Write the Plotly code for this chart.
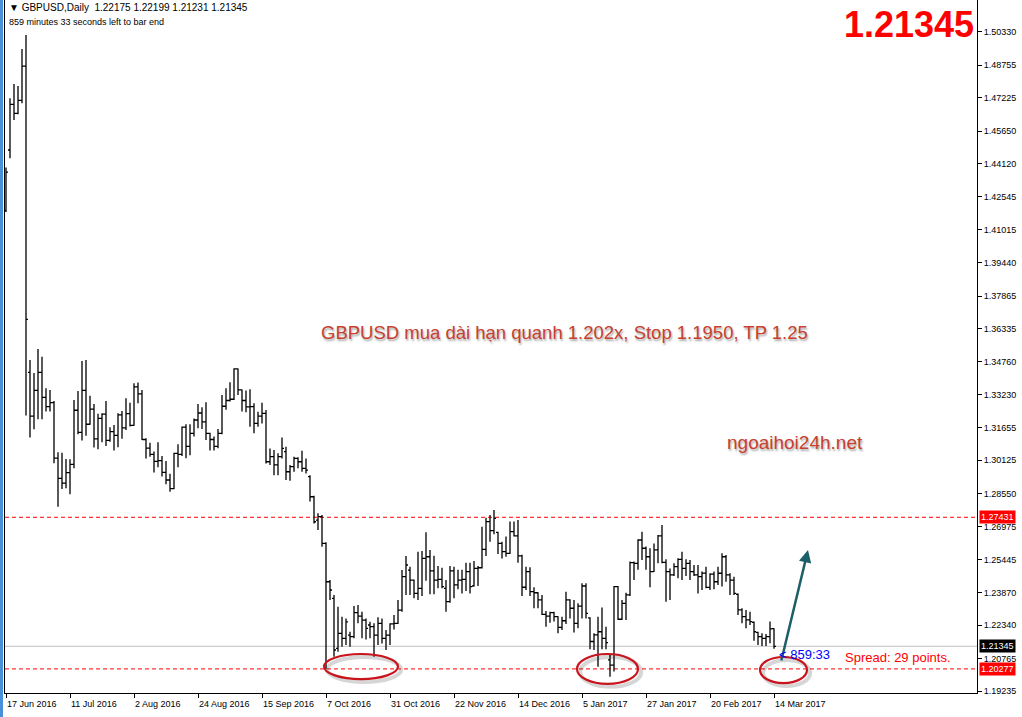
import pandas as pd
import plotly.graph_objects as go

# ---------------- data ----------------
symbol = "GBPUSD"
timeframe = "Daily"
start_date = "2016-06-17"
end_date = "2017-03-14"

open_ = [
    1.4190, 1.4476, 1.4691, 1.4649, 1.4710, 1.4872, 1.3427, 1.3220, 1.3342, 1.3427,
    1.3309, 1.3265, 1.3284, 1.3022, 1.2927, 1.2904, 1.2954, 1.2993, 1.3248, 1.3144,
    1.3342, 1.3182, 1.3253, 1.3113, 1.3210, 1.3230, 1.3106, 1.3147, 1.3130, 1.3226,
    1.3165, 1.3232, 1.3177, 1.3358, 1.3325, 1.3110, 1.3069, 1.3040, 1.3007, 1.3010,
    1.2955, 1.2919, 1.2878, 1.3045, 1.3040, 1.3168, 1.3078, 1.3139, 1.3202, 1.3235,
    1.3193, 1.3139, 1.3110, 1.3078, 1.3139, 1.3267, 1.3294, 1.3300, 1.3443, 1.3344,
    1.3294, 1.3264, 1.3265, 1.3186, 1.3220, 1.3233, 1.3005, 1.3029, 1.2990, 1.3029,
    1.3053, 1.2958, 1.2982, 1.3021, 1.3005, 1.2974, 1.2935, 1.2840, 1.2730, 1.2746,
    1.2620, 1.2439, 1.2361, 1.2125, 1.2195, 1.2172, 1.2187, 1.2180, 1.2293, 1.2277,
    1.2258, 1.2235, 1.2227, 1.2187, 1.2243, 1.2172, 1.2187, 1.2240, 1.2243, 1.2305,
    1.2463, 1.2494, 1.2447, 1.2384, 1.2408, 1.2549, 1.2557, 1.2490, 1.2447, 1.2450,
    1.2408, 1.2345, 1.2490, 1.2424, 1.2447, 1.2450, 1.2487, 1.2419, 1.2502, 1.2505,
    1.2592, 1.2723, 1.2680, 1.2672, 1.2620, 1.2581, 1.2573, 1.2675, 1.2655, 1.2561,
    1.2413, 1.2487, 1.2392, 1.2387, 1.2353, 1.2285, 1.2277, 1.2293, 1.2274, 1.2224,
    1.2255, 1.2353, 1.2314, 1.2243, 1.2324, 1.2419, 1.2269, 1.2157, 1.2188, 1.2203,
    1.2172, 1.2070, 1.2046, 1.2416, 1.2262, 1.2337, 1.2377, 1.2529, 1.2526, 1.2636,
    1.2597, 1.2557, 1.2487, 1.2589, 1.2655, 1.2530, 1.2487, 1.2471, 1.2510, 1.2545,
    1.2502, 1.2526, 1.2487, 1.2471, 1.2463, 1.2480, 1.2412, 1.2475, 1.2439, 1.2479,
    1.2557, 1.2471, 1.2447, 1.2380, 1.2306, 1.2274, 1.2259, 1.2248, 1.2200, 1.2180,
    1.2172, 1.2180, 1.22175,
]
high = [
    1.4393, 1.4720, 1.4787, 1.4778, 1.4952, 1.5019, 1.3485, 1.3424, 1.3537, 1.3501,
    1.3352, 1.3344, 1.3292, 1.3050, 1.3048, 1.3018, 1.3017, 1.3297, 1.3339, 1.3481,
    1.3485, 1.3316, 1.3278, 1.3231, 1.3234, 1.3292, 1.3168, 1.3179, 1.3234, 1.3245,
    1.3305, 1.3284, 1.3375, 1.3379, 1.3344, 1.3116, 1.3095, 1.3053, 1.3097, 1.3032,
    1.3009, 1.2948, 1.3048, 1.3088, 1.3171, 1.3182, 1.3182, 1.3209, 1.3278, 1.3262,
    1.3286, 1.3142, 1.3124, 1.3160, 1.3320, 1.3352, 1.3380, 1.3446, 1.3445, 1.3346,
    1.3341, 1.3347, 1.3281, 1.3241, 1.3284, 1.3249, 1.3068, 1.3060, 1.3045, 1.3120,
    1.3076, 1.2990, 1.3029, 1.3026, 1.3057, 1.3021, 1.2942, 1.2845, 1.2762, 1.2754,
    1.2625, 1.2447, 1.2376, 1.2321, 1.2274, 1.2266, 1.2203, 1.2324, 1.2329, 1.2298,
    1.2266, 1.2250, 1.2243, 1.2271, 1.2266, 1.2211, 1.2243, 1.2282, 1.2353, 1.2494,
    1.2560, 1.2510, 1.2450, 1.2580, 1.2584, 1.2672, 1.2589, 1.2562, 1.2513, 1.2505,
    1.2447, 1.2513, 1.2510, 1.2495, 1.2495, 1.2529, 1.2529, 1.2537, 1.2513, 1.2699,
    1.2741, 1.2754, 1.2777, 1.2675, 1.2628, 1.2652, 1.2723, 1.2723, 1.2730, 1.2566,
    1.2510, 1.2507, 1.2413, 1.2390, 1.2376, 1.2301, 1.2298, 1.2298, 1.2276, 1.2274,
    1.2392, 1.2356, 1.2353, 1.2337, 1.2432, 1.2432, 1.2272, 1.2196, 1.2274, 1.2318,
    1.2227, 1.2093, 1.2419, 1.2419, 1.2353, 1.2387, 1.2534, 1.2534, 1.2639, 1.2675,
    1.2605, 1.2597, 1.2620, 1.2660, 1.2707, 1.2545, 1.2502, 1.2526, 1.2550, 1.2581,
    1.2545, 1.2542, 1.2518, 1.2518, 1.2487, 1.2510, 1.2479, 1.2487, 1.2510, 1.2573,
    1.2565, 1.2479, 1.2463, 1.2384, 1.2314, 1.2306, 1.2298, 1.2251, 1.2203, 1.2196,
    1.2192, 1.2251, 1.22199,
]
low = [
    1.4183, 1.4437, 1.4617, 1.4644, 1.4696, 1.3223, 1.3119, 1.3158, 1.3206, 1.3206,
    1.3242, 1.3242, 1.2998, 1.2793, 1.2877, 1.2880, 1.2852, 1.2974, 1.3135, 1.3105,
    1.3128, 1.3180, 1.3072, 1.3064, 1.3097, 1.3080, 1.3100, 1.3058, 1.3073, 1.3114,
    1.3155, 1.3171, 1.3175, 1.3281, 1.3108, 1.3020, 1.3029, 1.2954, 1.2979, 1.2935,
    1.2899, 1.2864, 1.2875, 1.2979, 1.3032, 1.3022, 1.3036, 1.3124, 1.3163, 1.3160,
    1.3108, 1.3058, 1.3058, 1.3069, 1.3135, 1.3250, 1.3289, 1.3297, 1.3320, 1.3242,
    1.3239, 1.3170, 1.3139, 1.3170, 1.3186, 1.2997, 1.2990, 1.2942, 1.2942, 1.3021,
    1.2919, 1.2916, 1.2958, 1.2974, 1.2958, 1.2950, 1.2817, 1.2714, 1.2683, 1.2604,
    1.2027, 1.2353, 1.2085, 1.2109, 1.2132, 1.2140, 1.2132, 1.2172, 1.2243, 1.2172,
    1.2167, 1.2172, 1.2085, 1.2140, 1.2148, 1.2117, 1.2140, 1.2214, 1.2240, 1.2298,
    1.2376, 1.2376, 1.2361, 1.2353, 1.2372, 1.2444, 1.2380, 1.2380, 1.2408, 1.2408,
    1.2298, 1.2340, 1.2361, 1.2403, 1.2384, 1.2395, 1.2384, 1.2416, 1.2419, 1.2501,
    1.2561, 1.2628, 1.2663, 1.2570, 1.2549, 1.2557, 1.2570, 1.2652, 1.2529, 1.2372,
    1.2400, 1.2372, 1.2314, 1.2314, 1.2282, 1.2227, 1.2246, 1.2251, 1.2196, 1.2211,
    1.2240, 1.2266, 1.2199, 1.2219, 1.2266, 1.2266, 1.2120, 1.2117, 1.2038, 1.2120,
    1.2120, 1.1991, 1.2015, 1.2258, 1.2259, 1.2259, 1.2372, 1.2447, 1.2495, 1.2542,
    1.2495, 1.2413, 1.2485, 1.2526, 1.2526, 1.2345, 1.2353, 1.2466, 1.2455, 1.2447,
    1.2466, 1.2447, 1.2466, 1.2384, 1.2400, 1.2408, 1.2400, 1.2403, 1.2424, 1.2416,
    1.2439, 1.2377, 1.2377, 1.2282, 1.2243, 1.2219, 1.2235, 1.2161, 1.2141, 1.2136,
    1.2136, 1.2149, 1.21231,
]
close = [
    1.4372, 1.4691, 1.4649, 1.4710, 1.4872, 1.3677, 1.3220, 1.3342, 1.3427, 1.3309,
    1.3265, 1.3284, 1.3022, 1.2927, 1.2904, 1.2954, 1.2993, 1.3248, 1.3144, 1.3342,
    1.3182, 1.3253, 1.3113, 1.3210, 1.3230, 1.3106, 1.3147, 1.3130, 1.3226, 1.3165,
    1.3232, 1.3177, 1.3358, 1.3325, 1.3110, 1.3069, 1.3040, 1.3007, 1.3010, 1.2955,
    1.2919, 1.2878, 1.3045, 1.3040, 1.3168, 1.3078, 1.3139, 1.3202, 1.3235, 1.3193,
    1.3139, 1.3110, 1.3078, 1.3139, 1.3267, 1.3294, 1.3300, 1.3443, 1.3344, 1.3294,
    1.3264, 1.3265, 1.3186, 1.3220, 1.3233, 1.3005, 1.3029, 1.2990, 1.3029, 1.3068,
    1.2958, 1.2982, 1.3021, 1.3005, 1.2974, 1.2966, 1.2840, 1.2722, 1.2746, 1.2620,
    1.2439, 1.2400, 1.2117, 1.2195, 1.2172, 1.2250, 1.2180, 1.2293, 1.2277, 1.2258,
    1.2219, 1.2227, 1.2187, 1.2243, 1.2172, 1.2187, 1.2240, 1.2243, 1.2305, 1.2463,
    1.2518, 1.2447, 1.2384, 1.2408, 1.2549, 1.2557, 1.2490, 1.2447, 1.2450, 1.2416,
    1.2345, 1.2490, 1.2424, 1.2447, 1.2450, 1.2487, 1.2416, 1.2502, 1.2505, 1.2592,
    1.2723, 1.2680, 1.2738, 1.2620, 1.2581, 1.2573, 1.2675, 1.2655, 1.2561, 1.2413,
    1.2487, 1.2392, 1.2387, 1.2353, 1.2285, 1.2277, 1.2293, 1.2274, 1.2224, 1.2255,
    1.2353, 1.2314, 1.2243, 1.2324, 1.2419, 1.2290, 1.2157, 1.2188, 1.2203, 1.2172,
    1.2152, 1.2046, 1.2416, 1.2262, 1.2337, 1.2377, 1.2529, 1.2526, 1.2636, 1.2597,
    1.2557, 1.2487, 1.2589, 1.2655, 1.2530, 1.2487, 1.2471, 1.2510, 1.2545, 1.2502,
    1.2526, 1.2487, 1.2471, 1.2463, 1.2480, 1.2412, 1.2475, 1.2439, 1.2479, 1.2557,
    1.2471, 1.2447, 1.2384, 1.2306, 1.2274, 1.2259, 1.2251, 1.2203, 1.2180, 1.2172,
    1.2180, 1.2217, 1.21345,
]

y_tick_values = [1.19235, 1.20765, 1.22340, 1.23870, 1.25445, 1.26975, 1.28550,
                 1.30125, 1.31655, 1.33230, 1.34760, 1.36335, 1.37865, 1.39440,
                 1.41015, 1.42545, 1.44120, 1.45650, 1.47225, 1.48755, 1.50330]
x_tick_step = 16

resistance_level = 1.27431
support_level = 1.20277
spread_points = 29
time_left = "859:33"
time_left_text = "859 minutes 33 seconds left to bar end"
note_text = "GBPUSD mua dài hạn quanh 1.202x, Stop 1.1950, TP 1.25"
site_text = "ngoaihoi24h.net"

# ---------------- build ----------------
dates = pd.bdate_range(start_date, end_date)
n = len(open_)
assert len(dates) == n == len(high) == len(low) == len(close)
xi = list(range(n))

W, H = 1022, 717
L, R, T, B = 5, 45, 0, 24
PW, PH = W - L - R, H - T - B


def px(xp):  # pixel -> paper x
    return (xp - L) / PW


def py(yp):  # pixel -> paper y
    return (H - B - yp) / PH


FONT = "Liberation Sans, Arial, sans-serif"

fig = go.Figure(go.Ohlc(
    x=xi, open=open_, high=high, low=low, close=close,
    increasing=dict(line=dict(color="black", width=1.3)),
    decreasing=dict(line=dict(color="black", width=1.3)),
    tickwidth=0.5, hoverinfo="skip", showlegend=False,
))

bid = close[-1]
shapes = [
    dict(type="line", xref="paper", x0=0, x1=1, yref="y", y0=resistance_level, y1=resistance_level,
         line=dict(color="#ff0000", width=1, dash="4px,3px"), layer="below"),
    dict(type="line", xref="paper", x0=0, x1=1, yref="y", y0=support_level, y1=support_level,
         line=dict(color="#ff0000", width=1, dash="4px,3px"), layer="below"),
    dict(type="line", xref="paper", x0=0, x1=1, yref="y", y0=bid, y1=bid,
         line=dict(color="#c0c0c0", width=1), layer="below"),
    # left window strip
    dict(type="rect", xref="paper", x0=px(0), x1=px(3), yref="paper", y0=py(H), y1=py(0),
         fillcolor="#4a90d9", line=dict(width=0)),
]

# hand-drawn ellipses (shadow + red outline)
ellipses = [(79.5, 98.0, 1.1980, 1.2098), (142.75, 158.0, 1.1957, 1.2098), (188.5, 200.25, 1.1961, 1.2084)]
for x0, x1, y0, y1 in ellipses:
    shapes.append(dict(type="circle", xref="x", yref="y", x0=x0 + 0.8, x1=x1 + 0.8,
                       y0=y0 - 0.0014, y1=y1 - 0.0014,
                       line=dict(color="rgba(0,0,0,0.16)", width=4)))
    shapes.append(dict(type="circle", xref="x", yref="y", x0=x0, x1=x1, y0=y0, y1=y1,
                       line=dict(color="#c8141c", width=2.2)))

ann = []
# x tick labels, left-aligned like MT4
for i in range(0, n, x_tick_step):
    d = dates[i]
    ann.append(dict(x=i, xref="x", y=0, yref="paper", yanchor="top", xanchor="left",
                    xshift=-1, yshift=-4, showarrow=False,
                    text=f"{d.day} {d.strftime('%b %Y')}",
                    font=dict(family=FONT, size=9, color="black")))

# price labels on the axis
for lvl, bg in [(resistance_level, "#ff0000"), (support_level, "#ff0000"), (bid, "#000000")]:
    ann.append(dict(x=1, xref="paper", y=lvl, yref="y", xanchor="left", xshift=2,
                    showarrow=False, text=f"{lvl:.5f}", bgcolor=bg, borderpad=1,
                    font=dict(family=FONT, size=9, color="white")))

# header
NB = "\u00a0"
ann.append(dict(x=px(7), xref="paper", y=py(8), yref="paper", xanchor="left", yanchor="middle",
                showarrow=False,
                text=f"▼{NB}{symbol},{timeframe}{NB}{NB}{open_[-1]:.5f} {high[-1]:.5f} {low[-1]:.5f} {close[-1]:.5f}",
                font=dict(family=FONT, size=10, color="black")))
ann.append(dict(x=px(7), xref="paper", y=py(22), yref="paper", xanchor="left", yanchor="middle",
                showarrow=False, text=time_left_text,
                font=dict(family=FONT, size=9, color="black")))

# big price
ann.append(dict(x=px(976), xref="paper", y=py(24), yref="paper", xanchor="right", yanchor="middle",
                showarrow=False, text=f"<b>{bid:.5f}</b>",
                font=dict(family=FONT, size=36, color="#ff0000")))

# comment texts
ann.append(dict(x=px(564), xref="paper", y=py(332), yref="paper", xanchor="center", yanchor="middle",
                showarrow=False, text=note_text,
                font=dict(family=FONT, size=18.5, color="#c8402e", shadow="1px 2px 2px rgba(0,0,0,0.35)")))
ann.append(dict(x=px(795), xref="paper", y=py(443), yref="paper", xanchor="center", yanchor="middle",
                showarrow=False, text=site_text,
                font=dict(family=FONT, size=19, color="#c8402e", shadow="1px 2px 2px rgba(0,0,0,0.35)")))

# arrow (drawn before the countdown text so the text stays on top)
ann.append(dict(x=200.5, y=1.2589, xref="x", yref="y", ax=193.75, ay=1.2060, axref="x", ayref="y",
                showarrow=True, arrowhead=2, arrowsize=1, arrowwidth=2.5, arrowcolor="#1d5f68", text=""))

# countdown + spread
ann.append(dict(x=n - 1, xref="x", y=bid, yref="y", xanchor="left", yanchor="top", xshift=3, yshift=1,
                showarrow=False, text=f"&lt; {time_left}",
                font=dict(family=FONT, size=13, color="#0000ff")))
ann.append(dict(x=px(843), xref="paper", y=py(657), yref="paper", xanchor="left", yanchor="middle",
                showarrow=False, text=f"Spread: {spread_points} points.",
                font=dict(family=FONT, size=13, color="#ff0000")))

fig.update_layout(
    width=W, height=H, margin=dict(l=L, r=R, t=T, b=B),
    paper_bgcolor="white", plot_bgcolor="white",
    shapes=shapes, annotations=ann, showlegend=False,
    xaxis=dict(range=[-0.25, (PW) / 4 - 0.25], showgrid=False, zeroline=False,
               showline=True, linecolor="black", linewidth=1,
               tickvals=list(range(0, n, x_tick_step)), showticklabels=False,
               ticks="outside", ticklen=4, tickcolor="black", rangeslider=dict(visible=False),
               fixedrange=True),
    yaxis=dict(side="right", range=[1.19141, 1.51836], showgrid=False, zeroline=False,
               showline=True, linecolor="black", linewidth=1, mirror=True,
               tickvals=y_tick_values, ticktext=[f"{v:.5f}" for v in y_tick_values],
               ticks="outside", ticklen=4, tickcolor="black",
               tickfont=dict(family=FONT, size=9, color="black"), fixedrange=True),
)

fig.write_html("out.html", config={"displayModeBar": False},
               post_script="document.body.style.margin='0';document.body.style.padding='0';")
